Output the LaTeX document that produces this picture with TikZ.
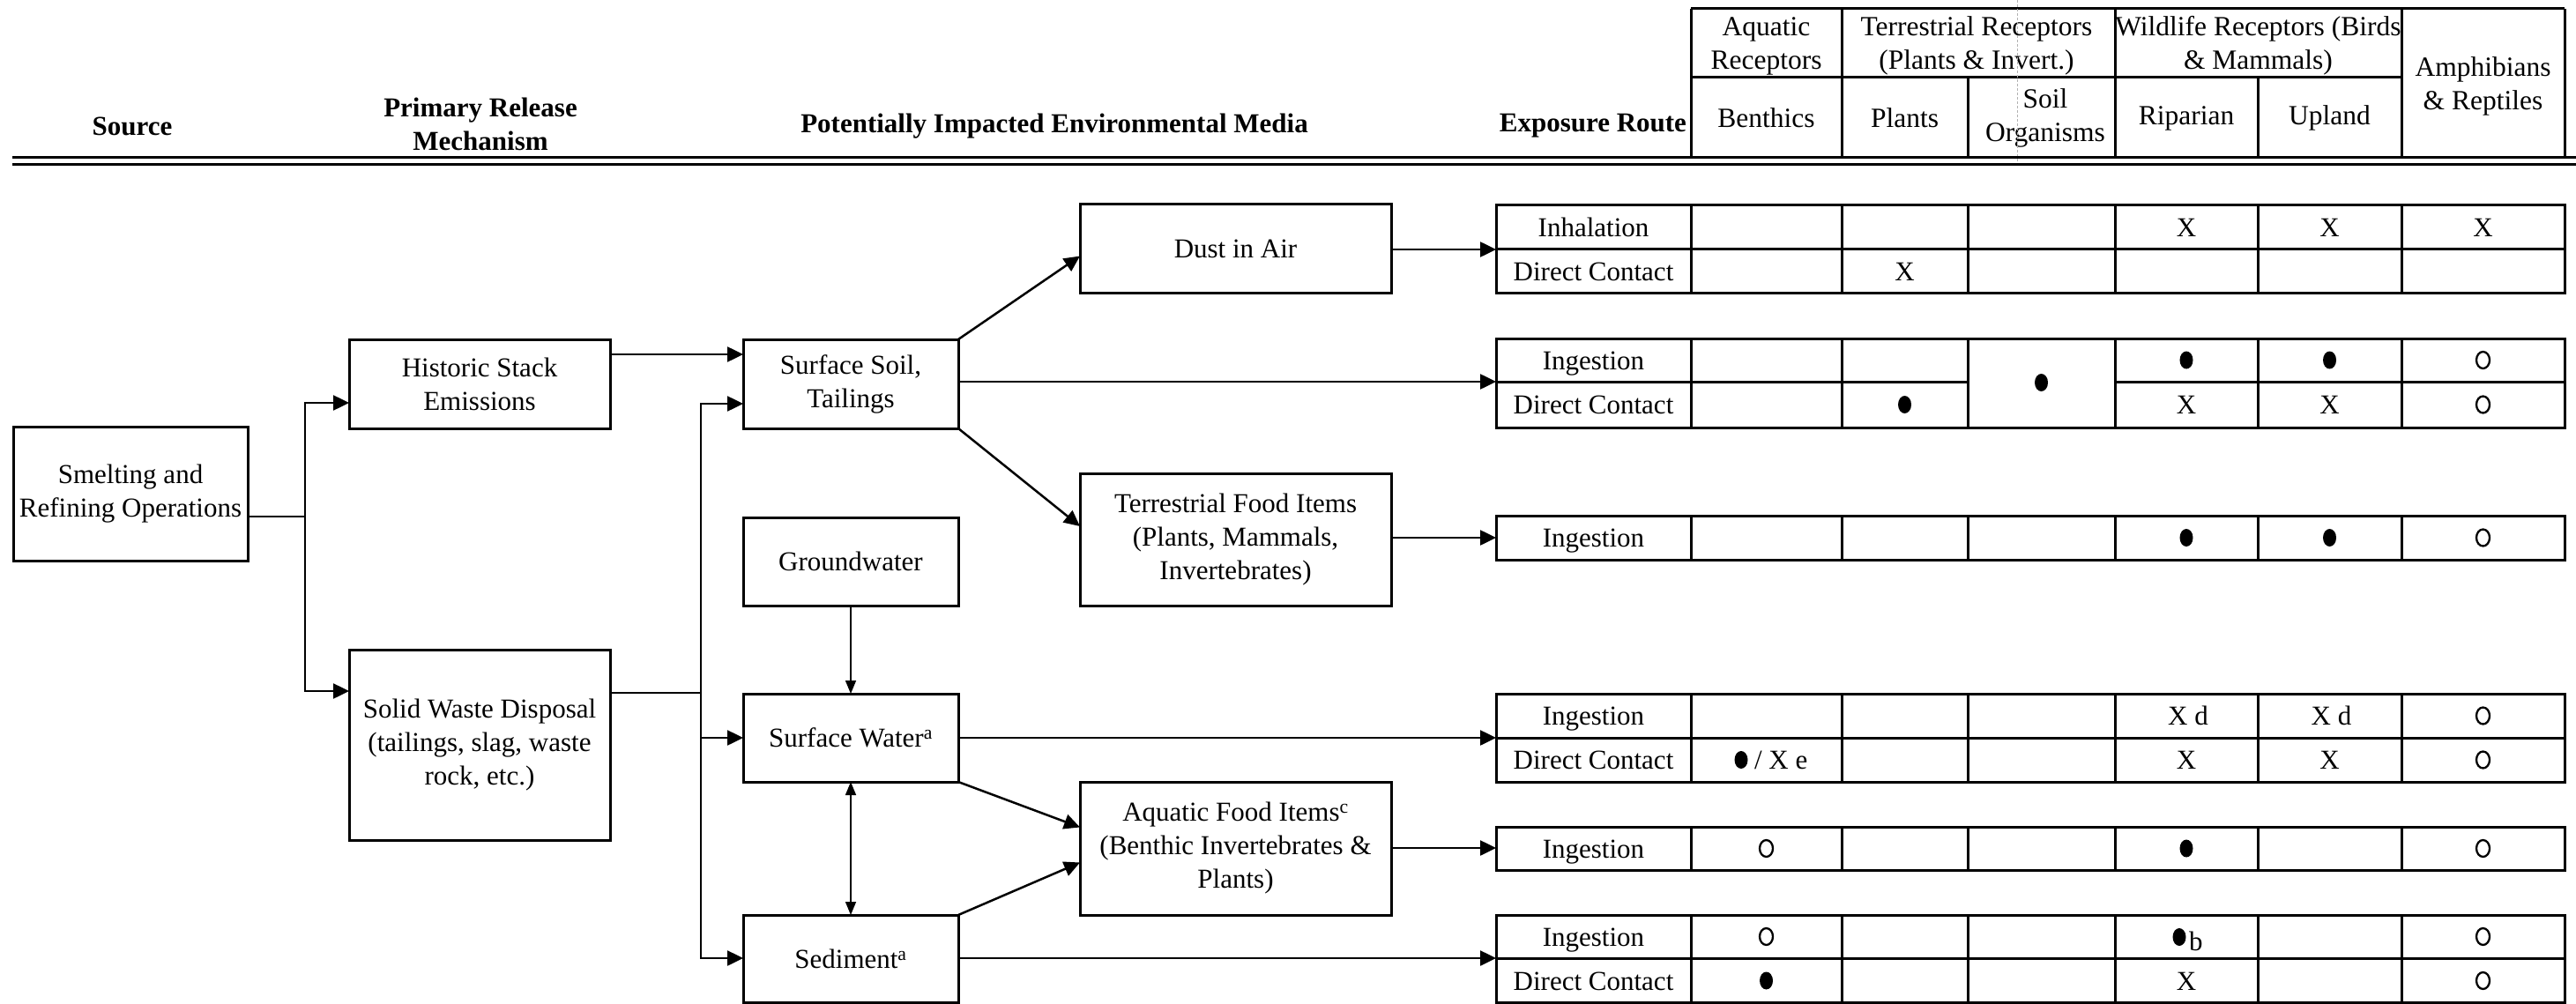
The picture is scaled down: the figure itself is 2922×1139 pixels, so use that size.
\documentclass[tikz,border=0pt]{standalone}
\usepackage{fontspec}
\setmainfont{Liberation Serif}
\usetikzlibrary{arrows.meta}
\newcommand{\exptable}[2]{%
  \draw[tbl] (1697,#1) rectangle (2909,#2);
  \foreach \cxx in {1918,2089,2232,2399,2561,2724} {\draw[tbl] (\cxx,#1) -- (\cxx,#2);}
}
\newcommand{\fb}[2]{\fill (#1,#2) ellipse [x radius=7.5pt, y radius=10pt];}
\newcommand{\ob}[2]{\draw[line width=2.3pt] (#1,#2) ellipse [x radius=7.5pt, y radius=9.5pt];}
\begin{document}
\begin{tikzpicture}[x=1pt,y=-1pt,
  every node/.style={inner sep=0pt, outer sep=0pt},
  txt/.style={font=\fontsize{31}{38}\selectfont, align=center},
  hd/.style={font=\bfseries\fontsize{31}{38}\selectfont, align=center},
  htx/.style={font=\fontsize{31.5}{38}\selectfont, align=center},
  cell/.style={font=\fontsize{31}{38}\selectfont, text height=21pt, text depth=0pt},
  box/.style={draw, line width=3pt, txt},
  conn/.style={line width=2.5pt},
  arr/.style={conn, -{Triangle[length=18pt,width=17pt]}},
  thinarr/.style={line width=1.5pt, -{Triangle[length=15pt,width=12pt]}},
  tbl/.style={line width=3pt},
]
\fill[white] (0,0) rectangle (2922,1139);
\useasboundingbox (0,0) rectangle (2922,1139);

% ---------- column headings ----------
\node[hd] (hsrc) at (150,143) {Source};
\node[hd] (hprm) at (545,141) {Primary Release\\Mechanism};
\node[hd] (hmed) at (1196,143) {Potentially Impacted Environmental Media};
\node[hd, anchor=east] (hexp) at (1913,143) {Exposure Route};

% header table
\draw[tbl] (1918,10) -- (2909,10);
\draw[tbl] (1918,88) -- (2724,88);
\foreach \cxx in {1918,2089,2399,2724,2909} {\draw[tbl] (\cxx,10) -- (\cxx,179);}
\foreach \cxx in {2232,2561} {\draw[tbl] (\cxx,88) -- (\cxx,179);}
\node[htx] (haq) at (2003.5,52) {Aquatic\\Receptors};
\node[htx] (hte) at (2242,52) {Terrestrial Receptors\\(Plants \& Invert.)};
\node[htx] (hwi) at (2561.5,52) {Wildlife Receptors (Birds\\\& Mammals)};
\node[htx] (ham) at (2816.5,98) {Amphibians\\\& Reptiles};
\node[htx] (hbe) at (2003.5,134) {Benthics};
\node[htx] (hpl) at (2160.5,134) {Plants};
\node[htx] (hso) at (2320,134) {Soil\\Organisms};
\node[htx] (hri) at (2480,134) {Riparian};
\node[htx] (hup) at (2642.5,134) {Upland};
\draw[gray!60, line width=1pt, densely dashed] (2288,0) -- (2288,187);

% double rule
\draw[line width=3pt] (14,179) -- (2922,179);
\draw[line width=3pt] (14,187) -- (2922,187);

% ---------- boxes ----------
\node[box, minimum width=266pt, minimum height=152pt] (smelt) at (148,560) {Smelting and\\Refining Operations};
\node[box, minimum width=296pt, minimum height=101pt] (hist) at (544,435.5) {Historic Stack\\Emissions};
\node[box, minimum width=296pt, minimum height=216pt] (solid) at (544,845) {Solid Waste Disposal\\(tailings, slag, waste\\rock, etc.)};
\node[box, minimum width=244pt, minimum height=101pt] (soil) at (965,435.5) {Surface Soil,\\Tailings};
\node[box, minimum width=244pt, minimum height=100pt] (gw) at (965,637) {Groundwater};
\node[box, minimum width=244pt, minimum height=100pt] (sw) at (965,837) {Surface Water\textsuperscript{a}};
\node[box, minimum width=244pt, minimum height=99pt] (sed) at (965,1087.5) {Sediment\textsuperscript{a}};
\node[box, minimum width=353pt, minimum height=101pt] (dust) at (1401.5,282.5) {Dust in Air};
\node[box, minimum width=353pt, minimum height=150pt] (tfood) at (1401.5,612) {Terrestrial Food Items\\(Plants, Mammals,\\Invertebrates)};
\node[box, minimum width=353pt, minimum height=151pt] (afood) at (1401.5,962.5) {Aquatic Food Items\textsuperscript{c}\\(Benthic Invertebrates \&\\Plants)};

% ---------- exposure tables ----------
\exptable{233}{333}
\draw[tbl] (1697,283) -- (2909,283);
\exptable{384}{485}
\draw[tbl] (1697,433) -- (2232,433);
\draw[tbl] (2399,433) -- (2909,433);
\exptable{585}{635}
\exptable{787}{887}
\draw[tbl] (1697,837) -- (2909,837);
\exptable{938}{987}
\exptable{1038}{1137}
\draw[tbl] (1697,1087) -- (2909,1087);

\coordinate (in1) at (1697,283);
\coordinate (in2) at (1697,433);
\coordinate (in3) at (1697,610);
\coordinate (in4) at (1697,837);
\coordinate (in5) at (1697,962);
\coordinate (in6) at (1697,1087);

% route labels
\node[cell] (t1a) at (1807.5,258) {Inhalation};
\node[cell] (t1b) at (1807.5,308) {Direct Contact};
\node[cell] (t2a) at (1807.5,408.5) {Ingestion};
\node[cell] (t2b) at (1807.5,459) {Direct Contact};
\node[cell] (t3a) at (1807.5,610) {Ingestion};
\node[cell] (t4a) at (1807.5,812) {Ingestion};
\node[cell] (t4b) at (1807.5,862) {Direct Contact};
\node[cell] (t5a) at (1807.5,962.5) {Ingestion};
\node[cell] (t6a) at (1807.5,1062.5) {Ingestion};
\node[cell] (t6b) at (1807.5,1112.5) {Direct Contact};

% table 1
\node[cell] (c1a5) at (2480,258) {X};
\node[cell] (c1a6) at (2642.5,258) {X};
\node[cell] (c1a7) at (2816.5,258) {X};
\node[cell] (c1b3) at (2160.5,308) {X};
% table 2
\fb{2480}{408.5} \fb{2642.5}{408.5} \ob{2816.5}{408.5}
\fb{2315.5}{434}
\fb{2160.5}{459}
\node[cell] (c2b5) at (2480,459) {X};
\node[cell] (c2b6) at (2642.5,459) {X};
\ob{2816.5}{459}
% table 3
\fb{2480}{610} \fb{2642.5}{610} \ob{2816.5}{610}
% table 4
\node[cell] (c4a5) at (2482,812) {X d};
\node[cell] (c4a6) at (2644.5,812) {X d};
\ob{2816.5}{812}
\fb{1975}{862}
\node[cell, anchor=west] (c4b2) at (1990,862) {/ X e};
\node[cell] (c4b5) at (2480,862) {X};
\node[cell] (c4b6) at (2642.5,862) {X};
\ob{2816.5}{862}
% table 5
\ob{2003.5}{962.5} \fb{2480}{962.5} \ob{2816.5}{962.5}
% table 6
\ob{2003.5}{1062.5}
\fb{2472}{1063}
\node[cell, anchor=west] (c6a5) at (2483,1068) {b};
\ob{2816.5}{1062.5}
\fb{2003.5}{1112.5}
\node[cell] (c6b5) at (2480,1112.5) {X};
\ob{2816.5}{1112.5}

% ---------- connectors ----------
\coordinate (j1) at (346,586);
\coordinate (v1t) at (346,457);
\coordinate (v1b) at (346,784);
\draw[conn] (smelt.east |- j1) -- (j1);
\draw[arr] (j1) -- (v1t) -- (hist.west |- v1t);
\draw[arr] (j1) -- (v1b) -- (solid.west |- v1b);

\coordinate (h1) at (692,402);
\draw[arr] (h1) -- (soil.west |- h1);

\coordinate (v2a) at (795,458);
\coordinate (v2j) at (795,786);
\coordinate (v2c) at (795,837);
\coordinate (v2d) at (795,1087);
\draw[conn] (solid.east |- v2j) -- (v2j);
\draw[arr] (v2j) -- (v2a) -- (soil.west |- v2a);
\draw[arr] (v2j) -- (v2d) -- (sed.west |- v2d);
\draw[arr] (v2c) -- (sw.west |- v2c);

\draw[arr] (soil.north east) -- ([yshift=-8pt]dust.west);
\draw[arr] (soil.south east) -- ([yshift=15pt]tfood.west);
\draw[thinarr] (gw.south) -- (sw.north);
\draw[line width=1.5pt, {Triangle[length=15pt,width=12pt]}-{Triangle[length=15pt,width=12pt]}] (sw.south) -- (sed.north);
\draw[arr] (sw.south east) -- ([yshift=24pt]afood.west);
\draw[arr] (sed.north east) -- ([yshift=-16pt]afood.west);

\draw[arr] (dust.east |- in1) -- (in1);
\draw[arr] (soil.east |- in2) -- (in2);
\draw[arr] (tfood.east |- in3) -- (in3);
\draw[arr] (sw.east |- in4) -- (in4);
\draw[arr] (afood.east |- in5) -- (in5);
\draw[arr] (sed.east |- in6) -- (in6);
\end{tikzpicture}
\end{document}
